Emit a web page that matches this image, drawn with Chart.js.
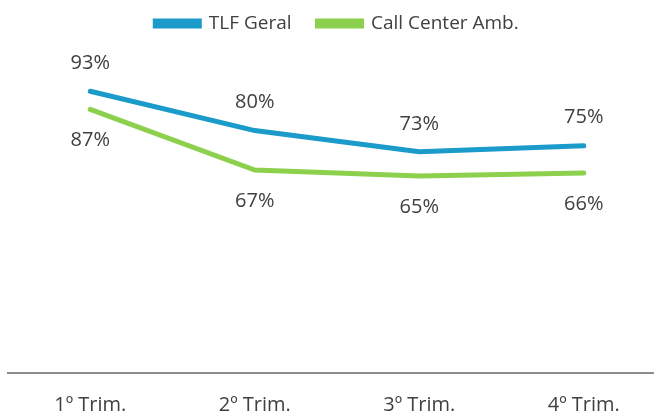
<!DOCTYPE html>
<html>
<head>
<meta charset="utf-8">
<script src="https://cdn.jsdelivr.net/npm/chart.js@4/dist/chart.umd.min.js"></script>
<style>
  html, body { margin: 0; padding: 0; background: #ffffff; overflow: hidden; }
  #wrap { width: 672px; height: 437px; position: relative; }
</style>
</head>
<body>
<div id="wrap"><canvas id="c" width="672" height="437"></canvas></div>
<script>
const categories = ["1º Trim.", "2º Trim.", "3º Trim.", "4º Trim."];
const seriesNames = ["TLF Geral", "Call Center Amb."];
const tlfGeral = [93, 80, 73, 75];
const callCenterAmb = [87, 67, 65, 66];

const FONT = "'Open Sans', 'Liberation Sans', sans-serif";
const TEXT_COLOR = "#404040";

const labelPlugin = {
  id: "pointLabels",
  afterDatasetsDraw(chart) {
    const ctx = chart.ctx;
    ctx.save();
    ctx.font = "20px " + FONT;
    ctx.fillStyle = TEXT_COLOR;
    ctx.textAlign = "center";
    ctx.textBaseline = "middle";
    chart.data.datasets.forEach((ds, di) => {
      const meta = chart.getDatasetMeta(di);
      meta.data.forEach((pt, i) => {
        const dy = di === 0 ? -28 : 31;
        ctx.fillText(ds.data[i] + "%", pt.x, pt.y + dy);
      });
    });
    ctx.restore();
  }
};

const legendSpacing = {
  id: "legendSpacing",
  beforeInit(chart) {
    const origFit = chart.legend.fit;
    chart.legend.fit = function () {
      origFit.bind(chart.legend)();
      this.height += 27;
    };
  }
};

new Chart(document.getElementById("c"), {
  type: "line",
  data: {
    labels: categories,
    datasets: [
      {
        label: seriesNames[0],
        data: tlfGeral,
        borderColor: "#1a9bc9",
        backgroundColor: "#1a9bc9",
        borderWidth: 5,
        pointRadius: 0,
        tension: 0,
        borderCapStyle: "round"
      },
      {
        label: seriesNames[1],
        data: callCenterAmb,
        borderColor: "#8cd04e",
        backgroundColor: "#8cd04e",
        borderWidth: 5,
        pointRadius: 0,
        tension: 0,
        borderCapStyle: "round"
      }
    ]
  },
  options: {
    responsive: false,
    animation: false,
    layout: { padding: { left: 8, right: 6, top: -12, bottom: 0 } },
    plugins: {
      legend: {
        display: true,
        position: "top",
        labels: {
          boxWidth: 44,
          boxHeight: 5,
          padding: 26,
          color: TEXT_COLOR,
          font: { size: 19, family: FONT }
        }
      },
      tooltip: { enabled: false }
    },
    scales: {
      x: {
        offset: true,
        grid: { display: false, drawTicks: false },
        border: { display: true, color: "#8c8c8c", width: 2 },
        ticks: {
          color: TEXT_COLOR,
          font: { size: 20, family: FONT },
          padding: 20,
          maxRotation: 0,
          autoSkip: false
        }
      },
      y: {
        display: false,
        min: 0,
        max: 100
      }
    }
  },
  plugins: [labelPlugin, legendSpacing]
});
</script>
</body>
</html>
